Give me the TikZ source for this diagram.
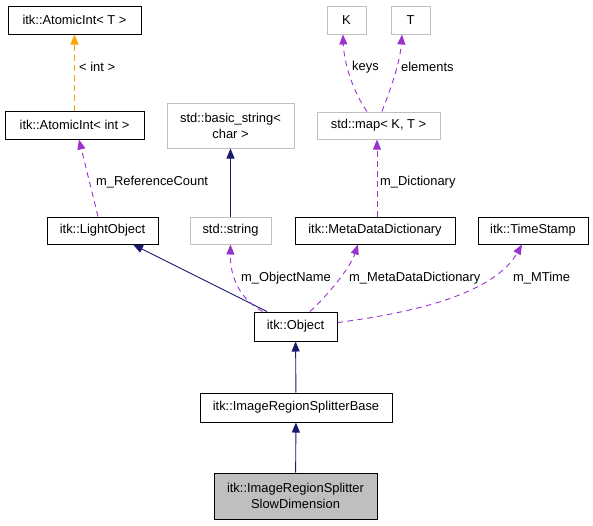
\documentclass[tikz,border=0pt]{standalone}
\usepackage{fontspec}
\setmainfont{Liberation Sans}
\usetikzlibrary{arrows.meta,calc}
\definecolor{navyc}{HTML}{191970}
\definecolor{purplec}{HTML}{9A32CD}
\definecolor{orangec}{HTML}{FFA500}
\definecolor{grayc}{HTML}{BFBFBF}
\begin{document}
\begin{tikzpicture}[x=1pt,y=-1pt,
  every node/.style={font=\fontsize{12.9}{16}\selectfont},
  box/.style={draw=black,line width=1pt,inner sep=0pt,align=center,fill=white},
  gbox/.style={draw=grayc,line width=1pt,inner sep=0pt,align=center,fill=white},
  cbox/.style={draw=black,line width=1pt,inner sep=0pt,align=center,fill=grayc},
  navyedge/.style={draw=navyc,line width=0.9pt,-{Triangle[length=10pt,width=8pt]}},
  purpleedge/.style={draw=purplec,line width=0.9pt,dash pattern=on 5.5pt off 4.5pt,-{Triangle[length=10pt,width=8pt,fill=purplec]}},
  orangeedge/.style={draw=orangec,line width=0.9pt,dash pattern=on 5.5pt off 4.5pt,-{Triangle[length=10pt,width=8pt,fill=orangec]}},
  lbl/.style={anchor=west,inner sep=0pt}
]
\useasboundingbox (0,0) rectangle (593,525);
% nodes
\node[box,minimum width=133pt,minimum height=28pt] (AIT) at (74.5,20) {itk::AtomicInt< T >};
\node[box,minimum width=139pt,minimum height=28pt] (AII) at (74.5,125) {itk::AtomicInt< int >};
\node[gbox,minimum width=127pt,minimum height=45pt] (BS) at (230.5,125.5) {std::basic\_string<\\char >};
\node[box,minimum width=111pt,minimum height=27pt] (LO) at (102.5,230.5) {itk::LightObject};
\node[gbox,minimum width=81pt,minimum height=27pt] (SS) at (230.5,230.5) {std::string};
\node[box,minimum width=160pt,minimum height=27pt] (MDD) at (375,230.5) {itk::MetaDataDictionary};
\node[box,minimum width=110pt,minimum height=27pt] (TS) at (533,230.5) {itk::TimeStamp};
\node[gbox,minimum width=39pt,minimum height=28pt] (K) at (346.5,20) {K};
\node[gbox,minimum width=39pt,minimum height=28pt] (T) at (410.5,20) {T};
\node[gbox,minimum width=123pt,minimum height=27pt] (MAP) at (378.5,125.5) {std::map< K, T >};
\node[box,minimum width=83pt,minimum height=29pt] (OBJ) at (295.5,326.5) {itk::Object};
\node[box,minimum width=192pt,minimum height=29pt] (BASE) at (296,407.5) {itk::ImageRegionSplitterBase};
\node[cbox,minimum width=163pt,minimum height=46pt] (SLOW) at (295.5,496) {itk::ImageRegionSplitter\\SlowDimension};
% edges
\draw[orangeedge] (AII.north) -- (AIT.south);
\draw[purpleedge] ($(LO.north)+(-4.5,0)$) -- ($(AII.south)+(4.5,0)$);
\draw[navyedge] (SS) -- (BS);
\draw[navyedge] ($(OBJ.north)+(-28.5,0)$) -- ($(LO.south)+(30.5,0)$);
\draw[purpleedge] ($(OBJ.north)+(-33,0)$) .. controls (242,300) and (230,280) .. (SS.south);
\draw[purpleedge] ($(OBJ.north)+(14.5,0)$) .. controls (328,295) and (350,268) .. ($(MDD.south)+(-17,0)$);
\draw[purpleedge] ($(OBJ.east)+(0,-4)$) .. controls (420,312) and (495,292) .. ($(TS.south)+(-11,0)$);
\draw[purpleedge] ($(MDD.north)+(2,0)$) -- ($(MAP.south)+(-1.5,0)$);
\draw[purpleedge] ($(MAP.north)+(-11.5,0)$) .. controls (352,90) and (344,62) .. ($(K.south)+(-3.5,0)$);
\draw[purpleedge] ($(MAP.north)+(3.5,0)$) .. controls (392,85) and (400,62) .. ($(T.south)+(-8.5,0)$);
\draw[navyedge] (BASE) -- (OBJ);
\draw[navyedge] (SLOW) -- (BASE);
% labels
\node[lbl] (l1) at (79,67) {< int >};
\node[lbl] (l2) at (96,182) {m\_ReferenceCount};
\node[lbl] (l3) at (241,278) {m\_ObjectName};
\node[lbl] (l4) at (349,278) {m\_MetaDataDictionary};
\node[lbl] (l5) at (513,278) {m\_MTime};
\node[lbl] (l6) at (380,182) {m\_Dictionary};
\node[lbl] (l7) at (352,67) {keys};
\node[lbl] (l8) at (401,67) {elements};
\end{tikzpicture}
\end{document}
